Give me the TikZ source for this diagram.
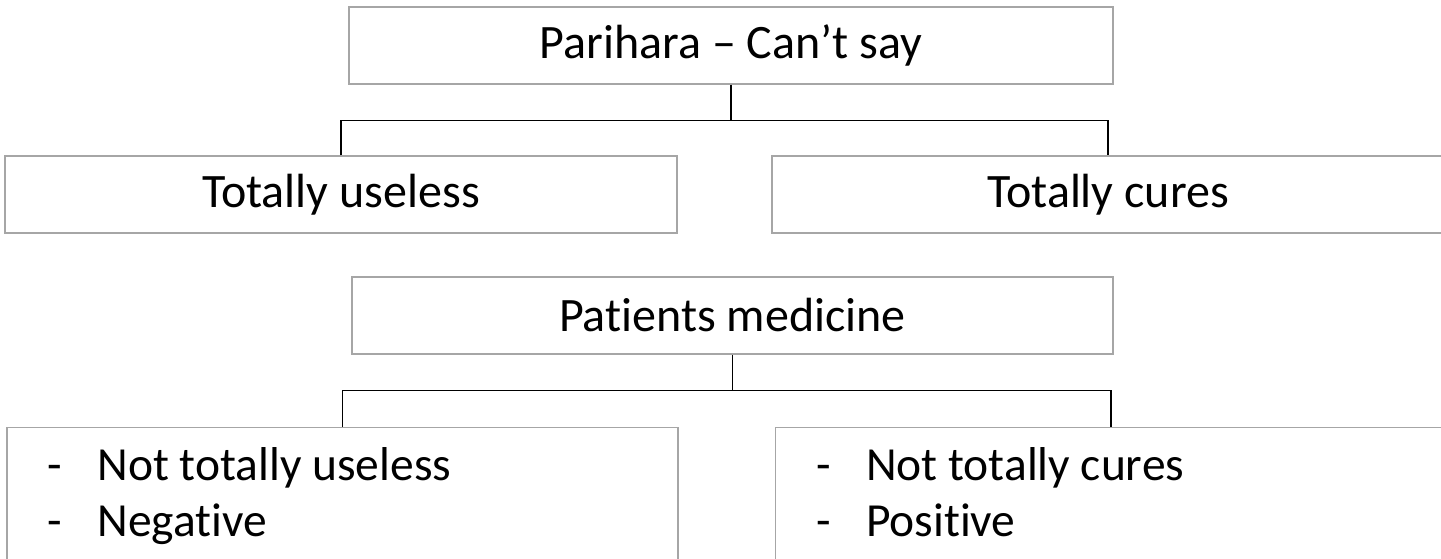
\documentclass[tikz,border=0pt]{standalone}
\usepackage{fontspec}
\setmainfont{Carlito}[Ligatures=NoCommon]
\usetikzlibrary{positioning}
\tikzstyle{mybox}=[draw=gray!70,line width=1.3pt,inner sep=0pt,minimum height=77pt,font=\fontsize{48}{57}\selectfont]
\tikzstyle{myline}=[line width=1.1pt,black]
\tikzstyle{myitem}=[inner sep=0pt,anchor=base west,font=\fontsize{47.5}{57}\selectfont]
\newcommand{\dashitem}[1]{\makebox[50pt][l]{-}#1}

\begin{document}
\begin{tikzpicture}[x=1pt,y=-1pt]
		\clip (0,0) rectangle (1441,558);
		\fill[white] (0,0) rectangle (1441,558);

		% first tree
		\node[mybox,minimum width=764pt] (parihara) at (731,45.5) {Parihara – Can’t say};
		\node[mybox,minimum width=672pt] (useless) at (341,194.5) {Totally useless};
		\node[mybox,minimum width=672pt] (cures) at (1108,194.5) {Totally cures};
		\draw[myline] (parihara.south) -- ++(0,36) coordinate (fork1);
		\draw[myline] (useless.north) |- (fork1) -| (cures.north);

		% second tree
		\node[mybox,minimum width=761pt] (medicine) at (732.5,315.5) {Patients medicine};
		\node[mybox,minimum width=671pt,minimum height=180pt,anchor=north] (notuseless) at (342.5,427) {};
		\node[mybox,minimum width=671pt,minimum height=180pt,anchor=north] (notcures) at (1111,427) {};
		\draw[myline] (medicine.south) -- ++(0,36) coordinate (fork2);
		\draw[myline] (notuseless.north) |- (fork2) -| (notcures.north);

		\node[myitem] (negline1) at ([shift={(41,53)}]notuseless.north west) {\dashitem{Not totally useless}};
		\node[myitem] (negline2) at ([shift={(41,109)}]notuseless.north west) {\dashitem{Negative}};
		\node[myitem] (posline1) at ([shift={(41,53)}]notcures.north west) {\dashitem{Not totally cures}};
		\node[myitem] (posline2) at ([shift={(41,109)}]notcures.north west) {\dashitem{Positive}};
	\end{tikzpicture}
\end{document}
